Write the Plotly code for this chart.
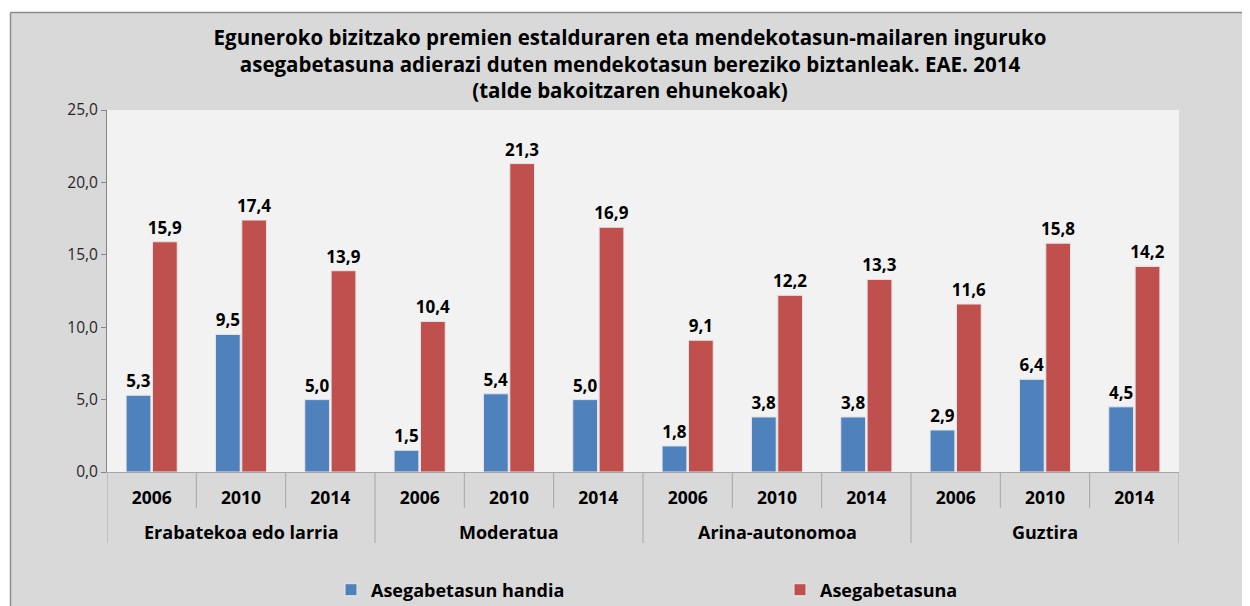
import plotly.graph_objects as go

groups = ["Erabatekoa edo larria", "Moderatua", "Arina-autonomoa", "Guztira"]
years = ["2006", "2010", "2014"]
handia = [5.3, 9.5, 5.0, 1.5, 5.4, 5.0, 1.8, 3.8, 3.8, 2.9, 6.4, 4.5]
asegabetasuna = [15.9, 17.4, 13.9, 10.4, 21.3, 16.9, 9.1, 12.2, 13.3, 11.6, 15.8, 14.2]
series_names = ["Asegabetasun handia", "Asegabetasuna"]
yticks = [0, 5, 10, 15, 20, 25]

title = ("Eguneroko bizitzako premien estalduraren eta mendekotasun-mailaren inguruko<br>"
         "asegabetasuna adierazi duten mendekotasun bereziko biztanleak. EAE. 2014<br>"
         "(talde bakoitzaren ehunekoak)")

W, H = 1250, 630
OFF = 8  # page offset of the plot div
# plot area in page pixels
PL, PR, PT, PB = 107, 1179, 110, 472
L, R, T, B = PL - OFF, PR - OFF, PT - OFF, PB - OFF
FONT = "Open Sans"
pw, ph = R - L, B - T


def px_x(p):
    """page x pixel -> paper coordinate"""
    return (p - OFF - L) / pw


def px_y(p):
    """page y pixel -> paper coordinate"""
    return (B - (p - OFF)) / ph


xpos = list(range(len(handia)))
year_labels = [years[i % len(years)] for i in xpos]

fig = go.Figure()
for name, vals, col in [(series_names[0], handia, "#4f81bd"), (series_names[1], asegabetasuna, "#c0504d")]:
    fig.add_trace(go.Bar(
        x=xpos, y=vals, name=name,
        marker=dict(color=col, line=dict(color="#e6e6e6", width=1)),
        texttemplate="%{y:.1f}", textposition="outside", constraintext="none",
        textfont=dict(family=FONT, size=17, color="black", weight="bold"),
        cliponaxis=False,
    ))

shapes = []
# outer frame
shapes.append(dict(type="rect", xref="paper", yref="paper", x0=px_x(-20), x1=px_x(W + 20),
                   y0=px_y(12.5), y1=px_y(-20), fillcolor="white", line=dict(width=0), layer="below"))
shapes.append(dict(type="rect", xref="paper", yref="paper", x0=px_x(-20), x1=px_x(10.5),
                   y0=px_y(H + 20), y1=px_y(-20), fillcolor="white", line=dict(width=0), layer="below"))
shapes.append(dict(type="line", xref="paper", yref="paper", x0=px_x(10.5), x1=px_x(W + 20),
                   y0=px_y(12.5), y1=px_y(12.5), line=dict(color="#8c8c8c", width=1.5)))
shapes.append(dict(type="line", xref="paper", yref="paper", x0=px_x(10.5), x1=px_x(10.5),
                   y0=px_y(12.5), y1=px_y(H + 20), line=dict(color="#8c8c8c", width=1.5)))
# category dividers
n = len(xpos)
for k in range(n + 1):
    xb = k - 0.5
    is_group = (k % len(years) == 0)
    bottom = 543 if is_group else 508
    shapes.append(dict(type="line", xref="x", yref="paper", x0=xb, x1=xb,
                       y0=0, y1=px_y(bottom), line=dict(color="#a6a6a6", width=1)))

annotations = []
for gi, g in enumerate(groups):
    annotations.append(dict(xref="x", yref="paper", x=gi * len(years) + (len(years) - 1) / 2,
                            y=px_y(532), text=g, showarrow=False, yanchor="middle",
                            font=dict(family=FONT, size=18, color="black", weight="bold")))

fig.update_layout(
    width=W, height=H,
    margin=dict(l=L, r=W - R, t=T, b=H - B, pad=0),
    paper_bgcolor="#d9d9d9", plot_bgcolor="#f2f2f2",
    separators=",.",
    barmode="group", bargap=0.41, bargroupgap=0.06,
    title=dict(text=title, x=(630 - OFF) / W, xanchor="center", y=1 - (45 - OFF) / H, yanchor="middle",
               font=dict(family=FONT, size=20.5, color="black", weight="bold")),
    xaxis=dict(range=[-0.5, n - 0.5], tickvals=xpos, ticktext=year_labels, ticks="",
               showline=True, linecolor="#a6a6a6", linewidth=1, showgrid=False, zeroline=False,
               tickfont=dict(family=FONT, size=17.5, color="black", weight="bold"),
               ticklabelstandoff=10),
    yaxis=dict(range=[0, 25], tickvals=yticks, tickformat=".1f", ticks="outside", ticklen=5,
               tickcolor="#868686", showline=True, linecolor="#868686", linewidth=1,
               showgrid=False, zeroline=False,
               tickfont=dict(family=FONT, size=15.5, color="#262626")),
    legend=dict(orientation="h", x=px_x(331), xanchor="left", y=px_y(590), yanchor="middle",
                font=dict(family=FONT, size=18, color="black", weight="bold"),
                entrywidth=404, bgcolor="rgba(0,0,0,0)", itemwidth=30),
    shapes=shapes, annotations=annotations,
)

fig.write_html("out.html")
